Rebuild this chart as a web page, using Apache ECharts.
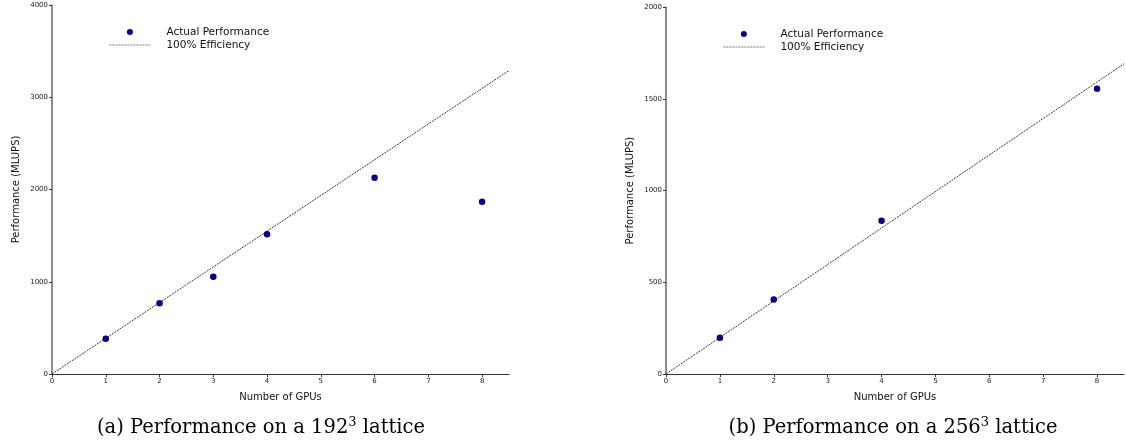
<!DOCTYPE html>
<html>
<head>
<meta charset="utf-8">
<script src="https://cdn.jsdelivr.net/npm/echarts@6/dist/echarts.min.js"></script>
<style>
html,body{margin:0;padding:0;background:#fff;}
#c{width:1126px;height:448px;}
</style>
</head>
<body>
<div id="c"></div>
<script>
// ---- data ----
const gpus192 = [1, 2, 3, 4, 6, 8];
const perf192 = [383, 766, 1055, 1515, 2128, 1868];
const eff192 = [[0, 0], [8.5, 3290]];

const gpus256 = [1, 2, 4, 8];
const perf256 = [198, 407, 836, 1556];
const eff256 = [[0, 0], [8.5, 1692]];

const xTicks = [0, 1, 2, 3, 4, 5, 6, 7, 8];
const seriesNames = ['Actual Performance', '100% Efficiency'];
const xTitle = 'Number of GPUs';
const yTitle = 'Performance (MLUPS)';
const captionA = ['(a) Performance on a 192', '3', ' lattice'];
const captionB = ['(b) Performance on a 256', '3', ' lattice'];

const pts192 = gpus192.map((g, i) => [g, perf192[i]]);
const pts256 = gpus256.map((g, i) => [g, perf256[i]]);

const axisColor = '#333';
const sans = 'DejaVu Sans';
const dotColor = '#000080';

function xAxis(gi) {
  return {
    gridIndex: gi, type: 'value', min: 0, max: 8.5, interval: 1,
    name: xTitle, nameLocation: 'middle', nameGap: 18,
    nameTextStyle: { fontFamily: sans, fontSize: 10, color: '#111' },
    axisLine: { lineStyle: { color: axisColor, width: 1.2 } },
    axisTick: { show: true, length: 3, customValues: xTicks, lineStyle: { color: axisColor } },
    axisLabel: { customValues: xTicks, fontFamily: sans, fontSize: 7, color: '#222', margin: 4 },
    splitLine: { show: false }
  };
}
function yAxis(gi, max, interval) {
  return {
    gridIndex: gi, type: 'value', min: 0, max: max, interval: interval,
    name: yTitle, nameLocation: 'middle', nameGap: 31,
    nameTextStyle: { fontFamily: sans, fontSize: 10, color: '#111' },
    axisLine: { show: true, lineStyle: { color: '#666', width: 1.5 } },
    axisTick: { show: true, length: 3, lineStyle: { color: axisColor } },
    axisLabel: { fontFamily: sans, fontSize: 7, color: '#222', margin: 4, formatter: v => String(v) },
    splitLine: { show: false }
  };
}
function legend(left, top, suffix) {
  return {
    orient: 'vertical', left: left, top: top, padding: 0,
    itemWidth: 41, itemHeight: 6, itemGap: 1,
    data: [
      { name: seriesNames[0] + suffix, icon: 'circle' },
      { name: seriesNames[1] + suffix, lineStyle: { color: '#555', width: 0.8, type: [2, 1] } }
    ],
    formatter: n => n.trim(),
    textStyle: { fontFamily: sans, fontSize: 10.5, color: '#111', padding: [0, 0, 0, 11], lineHeight: 12 },
    selectedMode: false
  };
}
function dots(name, gi, data) {
  return { name: name, type: 'scatter', xAxisIndex: gi, yAxisIndex: gi, data: data,
    symbolSize: 6.5, itemStyle: { color: dotColor, opacity: 1 }, z: 3 };
}
function effLine(name, gi, data) {
  return { name: name, type: 'line', xAxisIndex: gi, yAxisIndex: gi, data: data,
    showSymbol: false, symbol: 'none', itemStyle: { color: 'rgba(0,0,0,0)' },
    lineStyle: { color: '#222', width: 0.9, type: [2, 1] } };
}
function caption(parts, cx) {
  return {
    type: 'text', x: cx, y: 427,
    style: {
      text: '{m|' + parts[0] + '}{s|' + parts[1] + '}{m|' + parts[2] + '}',
      align: 'center', verticalAlign: 'middle',
      rich: {
        m: { fontFamily: 'DejaVu Serif', fontSize: 19.5, fill: '#000', verticalAlign: 'bottom', lineHeight: 22 },
        s: { fontFamily: 'DejaVu Serif', fontSize: 13, fill: '#000', verticalAlign: 'top', lineHeight: 22 }
      }
    }
  };
}

const option = {
  animation: false,
  backgroundColor: '#fff',
  grid: [
    { left: 52, right: 617, top: 5, bottom: 74 },
    { left: 666, right: 2, top: 7.3, bottom: 74 }
  ],
  xAxis: [xAxis(0), xAxis(1)],
  yAxis: [yAxis(0, 4000, 1000), yAxis(1, 2000, 500)],
  legend: [legend(109, 26, ''), legend(723, 28, ' ')],
  series: [
    dots(seriesNames[0], 0, pts192),
    effLine(seriesNames[1], 0, eff192),
    dots(seriesNames[0] + ' ', 1, pts256),
    effLine(seriesNames[1] + ' ', 1, eff256)
  ],
  graphic: [caption(captionA, 261), caption(captionB, 893)]
};

const chart = echarts.init(document.getElementById('c'), null, { renderer: 'canvas' });
chart.setOption(option);
</script>
</body>
</html>
